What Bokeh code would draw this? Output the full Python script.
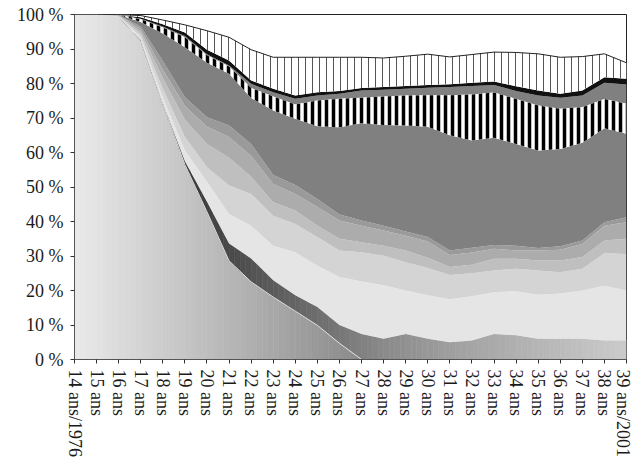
import numpy as np
from bokeh.plotting import figure
from bokeh.models import Range1d, FixedTicker, ColumnDataSource
from bokeh.embed import file_html
from bokeh.resources import INLINE

# ---------------- data ----------------
ages = [14, 15, 16, 17, 18, 19, 20, 21, 22, 23, 24, 25, 26,
        27, 28, 29, 30, 31, 32, 33, 34, 35, 36, 37, 38, 39]
age_labels = ["14 ans/1976", "15 ans", "16 ans", "17 ans", "18 ans", "19 ans",
              "20 ans", "21 ans", "22 ans", "23 ans", "24 ans", "25 ans",
              "26 ans", "27 ans", "28 ans", "29 ans", "30 ans", "31 ans",
              "32 ans", "33 ans", "34 ans", "35 ans", "36 ans", "37 ans",
              "38 ans", "39 ans/2001"]
y_ticks = [0, 10, 20, 30, 40, 50, 60, 70, 80, 90, 100]
y_labels = ["0 %", "10 %", "20 %", "30 %", "40 %", "50 %",
            "60 %", "70 %", "80 %", "90 %", "100 %"]

# stacked series (bottom -> top), in %
s1 = [100, 100, 99.4, 92.5, 74, 56.5, 42.8, 28.6, 22.5, 18.1, 14, 9.9, 4.7,
      0, 0, 0, 0, 0, 0, 0, 0, 0, 0, 0, 0, 0]
s2 = [0, 0, 0, 0.1, 0.3, 1, 2.9, 5, 6.8, 4.9, 4.6, 5.3, 5.3,
      7.4, 6, 7.4, 6, 5, 5.5, 7.4, 7, 6, 6, 6, 5.5, 5.5]
s3 = [0, 0, 0.1, 0.7, 1.7, 3.1, 5.8, 8.6, 9.5, 10, 12.5, 12, 13.9,
      15.2, 15.5, 12.6, 12.6, 12.5, 12.8, 12.1, 12.8, 12.8, 13.1, 14, 15.9, 14.5]
s4 = [0, 0, 0.1, 0.9, 2.5, 3.9, 4.2, 8.2, 9.2, 8.7, 8.2, 8.3, 7.7,
      8.5, 8.6, 8.2, 7.9, 7, 6.7, 6.3, 6.5, 7, 6.2, 6.3, 9.4, 10.6]
s5 = [0, 0, 0.1, 0.8, 3, 5, 6.8, 8.1, 5, 3.9, 3.9, 3.3, 3.4,
      2.9, 2.9, 3.4, 3, 2.3, 2.5, 3.4, 2.9, 2.9, 3.4, 3.4, 3.7, 4.4]
s6 = [0, 0, 0.1, 0.8, 2.5, 4, 5, 6, 6, 5.3, 4.8, 5.4, 5.3,
      4.8, 4.4, 4.3, 4.7, 3.5, 3.5, 2.9, 2.4, 2.9, 3.1, 3.8, 4.3, 4.8]
s7 = [0, 0, 0, 0.7, 2.5, 2.5, 2.7, 3.3, 3.5, 2.6, 2.6, 2.3, 1.7,
      1.5, 1.4, 1.2, 1.3, 1.3, 1.4, 1.1, 1.4, 0.7, 1, 1, 1, 1.4]
s8 = [0, 0, 0.1, 1.3, 8, 14.5, 15.8, 15, 13.3, 18.7, 19.2, 21.1, 25.3,
      28.2, 29.2, 30.7, 32, 33.4, 31.1, 31.1, 29.5, 28.3, 28.2, 28.3, 27.2, 24.2]
s9 = [0, 0, 0, 0.8, 1.7, 2.9, 2.2, 2.1, 2.9, 4, 4.1, 7.5, 8.3,
      7.4, 8.2, 8.7, 9.1, 11.6, 13.3, 13.1, 13, 13, 11.7, 10.3, 8.5, 8.7]
s10 = [0, 0, 0, 0.2, 0.3, 0.4, 0.3, 0.3, 1.2, 1.3, 1.7, 1.4, 1.4,
       2.1, 2, 2, 2.2, 2.4, 2.5, 2.2, 2.3, 2.9, 3.2, 3.4, 4.7, 5.6]
s11 = [0, 0, 0, 0.4, 0.7, 1, 1.3, 1.5, 1, 1, 0.9, 1, 0.8,
       0.7, 0.8, 0.8, 0.8, 0.8, 0.9, 1, 1.4, 1.5, 1.1, 1.5, 1.6, 1.7]
s12 = [0, 0, 0.1, 0.5, 1.2, 2.2, 5.5, 6.7, 8.9, 9.1, 11.1, 10.1, 9.8,
       8.9, 8.4, 8.6, 8.9, 7.9, 8.2, 8.5, 9.8, 10.6, 10.6, 9.8, 6.8, 4.6]

series = [s1, s2, s3, s4, s5, s6, s7, s8, s9, s10, s11, s12]
cum = np.cumsum(np.array(series, dtype=float), axis=0)
base = np.vstack([np.zeros(len(ages)), cum[:-1]])

# ---------------- figure ----------------
FONT = "Liberation Serif"
p = figure(width=632, height=459, output_backend="svg", toolbar_location=None,
           x_range=Range1d(14, 39), y_range=Range1d(0, 100),
           min_border_left=74, min_border_right=6, min_border_top=14,
           min_border_bottom=100)
p.background_fill_color = "white"
p.border_fill_color = "white"
p.outline_line_color = "#222222"
p.outline_line_width = 1
p.xgrid.visible = False
p.ygrid.visible = False


def gray(v):
    v = int(max(0, min(255, round(v))))
    return "#%02x%02x%02x" % (v, v, v)


def gradient_layer(bottom, top, color_fn, n=4):
    xs, ys, cols = [], [], []
    for i in range(len(ages) - 1):
        if top[i] - bottom[i] <= 0 and top[i + 1] - bottom[i + 1] <= 0:
            continue
        for j in range(n):
            t0, t1 = j / n, (j + 1) / n
            x0 = ages[i] + t0 * (ages[i + 1] - ages[i])
            x1 = ages[i] + t1 * (ages[i + 1] - ages[i])
            b0 = bottom[i] + (bottom[i + 1] - bottom[i]) * t0
            b1 = bottom[i] + (bottom[i + 1] - bottom[i]) * t1
            u0 = top[i] + (top[i + 1] - top[i]) * t0
            u1 = top[i] + (top[i + 1] - top[i]) * t1
            xs.append([x0, x1, x1, x0])
            ys.append([b0, b1, u1, u0])
            cols.append(color_fn((x0 + x1) / 2))
    src = ColumnDataSource(dict(xs=xs, ys=ys, c=cols))
    p.patches("xs", "ys", source=src, fill_color="c", line_color="c",
              line_width=0.6)


# gradient stops (styling only)
g1_x, g1_v = [14, 27, 39], [234, 138, 60]
g2_x, g2_v = [14, 20, 24, 28, 32, 39], [20, 65, 100, 138, 165, 203]
gradient_layer(base[0], cum[0], lambda x: gray(np.interp(x, g1_x, g1_v)))
gradient_layer(base[1], cum[1], lambda x: gray(np.interp(x, g2_x, g2_v)))

solid_colors = {2: "#e5e5e5", 3: "#d4d4d4", 4: "#bfbfbf", 5: "#acacac",
                6: "#9a9a9a", 7: "#808080", 9: "#808080", 10: "#111111"}
for k, col in solid_colors.items():
    p.varea(x=ages, y1=list(base[k]), y2=list(cum[k]), fill_color=col)

# layer 9: thick black vertical stripes
p.varea(x=ages, y1=list(base[8]), y2=list(cum[8]), fill_color="white",
        hatch_pattern="vertical_line", hatch_color="#000000",
        hatch_weight=3.5, hatch_scale=7)
# layer 12: thin vertical lines
p.varea(x=ages, y1=list(base[11]), y2=list(cum[11]), fill_color="white",
        hatch_pattern="vertical_line", hatch_color="#555555",
        hatch_weight=1, hatch_scale=7)

# boundary lines
p.line(ages, list(cum[11]), line_color="#222222", line_width=1)
p.line(ages[2:14], list(cum[0][2:14]), line_color="white", line_width=0.8)

# ---------------- axes ----------------
for ax in (p.xaxis[0], p.yaxis[0]):
    ax.axis_line_color = "#555555"
    ax.major_tick_line_color = "#333333"
    ax.major_tick_in = 0
    ax.major_tick_out = 4
    ax.minor_tick_line_color = None
    ax.major_label_text_font = FONT
    ax.major_label_text_font_size = "18px"
    ax.major_label_text_color = "#1a1a1a"

p.xaxis.ticker = FixedTicker(ticks=ages)
p.xaxis.major_label_overrides = {a: l for a, l in zip(ages, age_labels)}
p.xaxis.major_label_orientation = "vertical"
p.xaxis.major_label_standoff = 6

p.yaxis.ticker = FixedTicker(ticks=y_ticks)
p.yaxis.major_label_overrides = {t: l for t, l in zip(y_ticks, y_labels)}
p.yaxis.major_label_standoff = 7

open("out.html", "w").write(file_html(p, INLINE))
